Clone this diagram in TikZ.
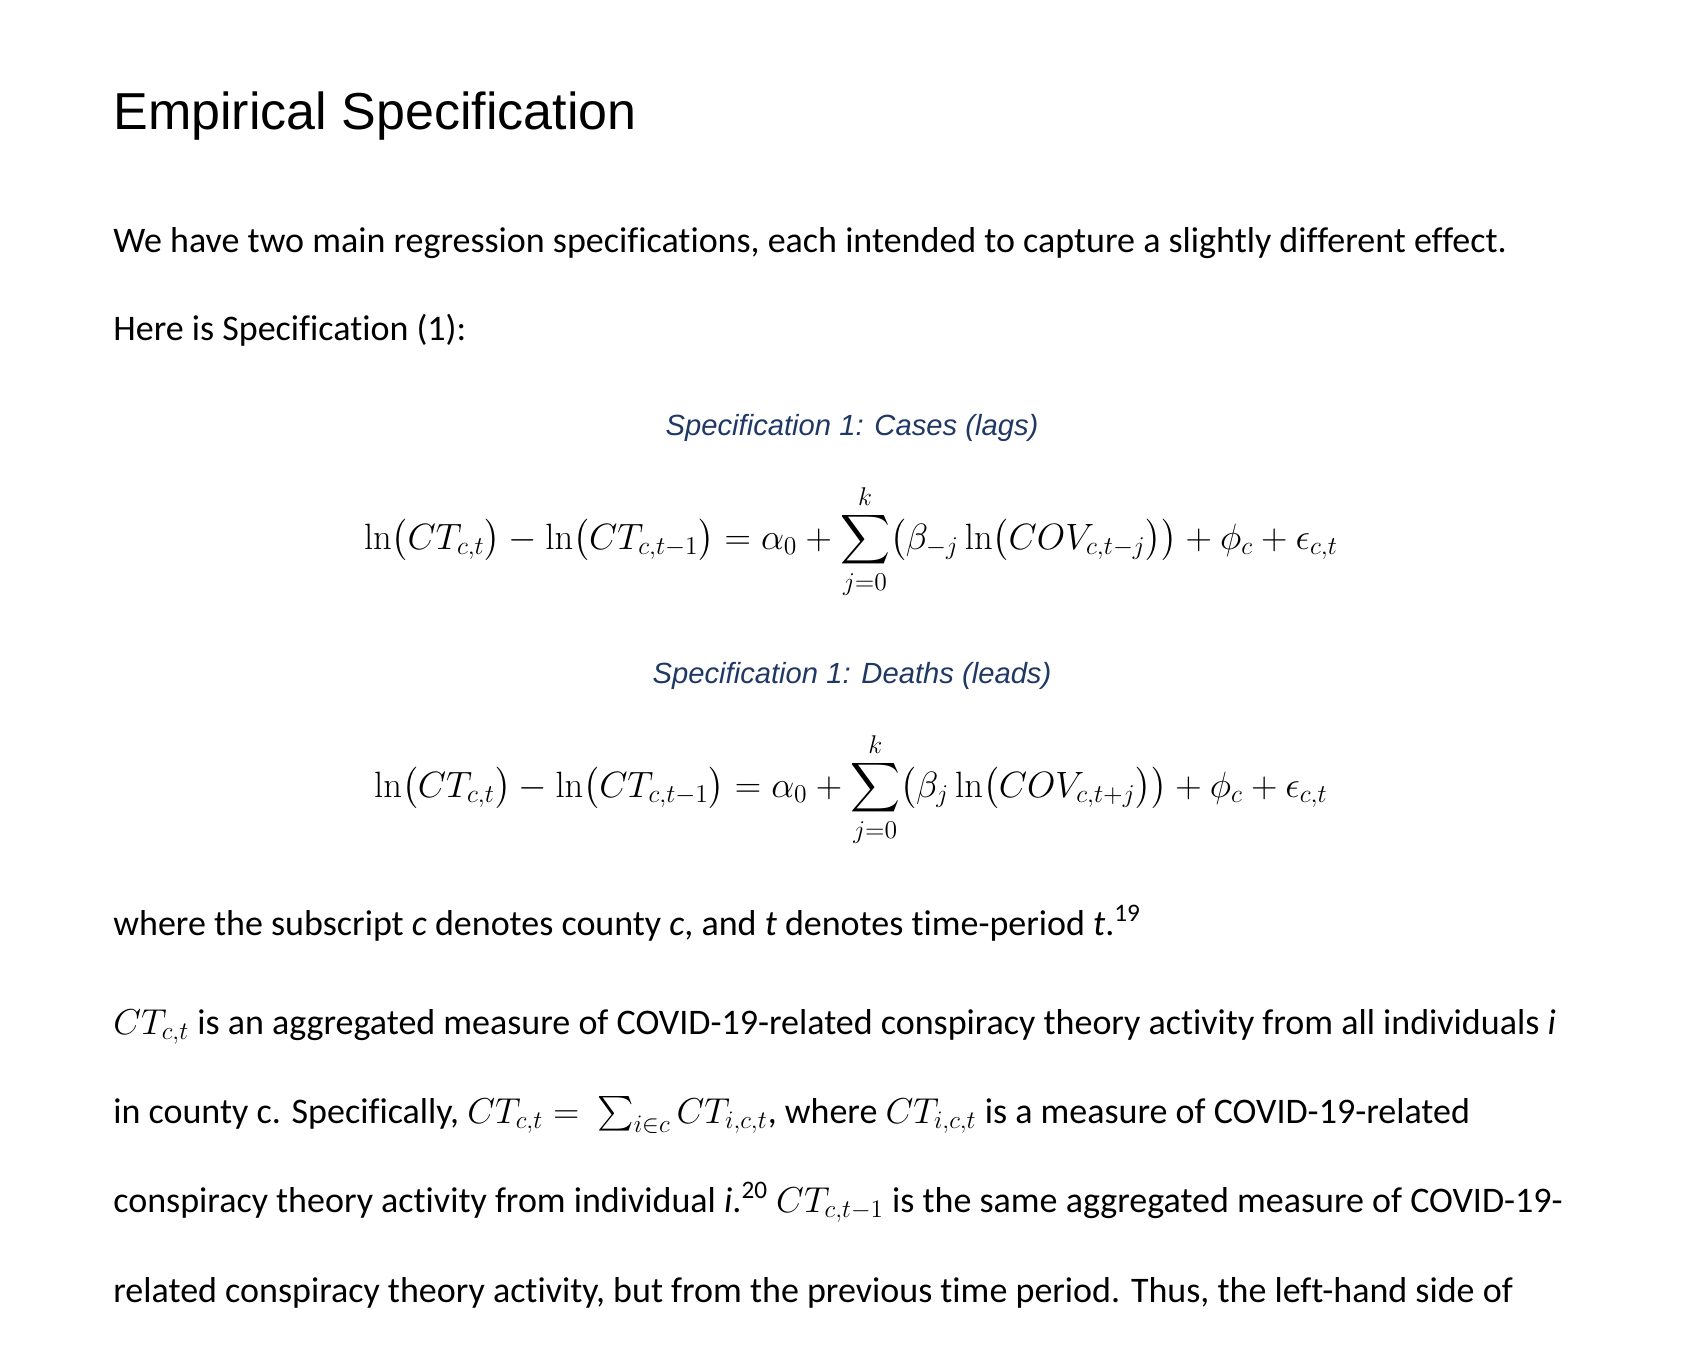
\RequirePackage{fix-cm}
\documentclass[tikz,border=0pt]{standalone}
\usepackage{amsmath}
\usepackage[no-math]{fontspec}
\setmainfont{Carlito}[Ligatures={TeX,NoCommon}]
\newfontfamily\headfont{Liberation Sans}
\usepackage{tikz}
\definecolor{CaptionBlue}{HTML}{1F3864}
\tikzstyle{heading} = [anchor=base west, inner sep=0pt, font=\headfont\fontsize{26pt}{30pt}\selectfont]
\tikzstyle{bodytext} = [anchor=base west, inner sep=0pt, font=\fontsize{18pt}{22pt}\selectfont]
\tikzstyle{caption} = [anchor=base, inner sep=0pt, text=CaptionBlue, font=\headfont\itshape\fontsize{14.6pt}{18pt}\selectfont]
\tikzstyle{eqn} = [anchor=base, inner sep=0pt, font=\fontsize{18.3pt}{22pt}\selectfont]

\begin{document}
\begin{tikzpicture}[x=0.5pt,y=-0.5pt]
  	\useasboundingbox (0,0) rectangle (1700,1344);
  	\node[heading] (title) at (113,129) {Empirical Specification};
  	\node[bodytext] (intro) at (113,252) {We have two main regression specifications, each intended to capture a slightly different effect.};
  	\node[bodytext] (here) at (113,340) {Here is Specification (1):};

  	% the two specifications
  	\node[caption] (caplags) at (852,435) {Specification 1: Cases (lags)};
  	\node[eqn] (eqlags) at (851,549) {$\displaystyle \ln\bigl(CT_{c,t}\bigr) - \ln\bigl(CT_{c,t-1}\bigr) = \alpha_0 + \sum_{j=0}^{k}\bigl(\beta_{-j}\ln\bigl(COV_{c,t-j}\bigr)\bigr) + \phi_c + \epsilon_{c,t}$};
  	\node[caption] (capleads) at (852,683) {Specification 1: Deaths (leads)};
  	\node[eqn] (eqleads) at (851,797) {$\displaystyle \ln\bigl(CT_{c,t}\bigr) - \ln\bigl(CT_{c,t-1}\bigr) = \alpha_0 + \sum_{j=0}^{k}\bigl(\beta_{j}\ln\bigl(COV_{c,t+j}\bigr)\bigr) + \phi_c + \epsilon_{c,t}$};

  	% text after the equations, one node per line
  	\node[bodytext] (where) at (113,935) {where the subscript \textit{c} denotes county \textit{c}, and \textit{t} denotes time-period \textit{t}.\textsuperscript{19}};
  	\node[bodytext] (lineA) at (113,1034) {$CT_{c,t}$ is an aggregated measure of COVID-19-related conspiracy theory activity from all individuals \textit{i}};
  	\node[bodytext] (lineB) at (113,1123) {in county c. Specifically, $CT_{c,t} = \ \sum_{i\in c} CT_{i,c,t}$, where $CT_{i,c,t}$ is a measure of COVID-19-related};
  	\node[bodytext] (lineC) at (113,1212) {conspiracy theory activity from individual \textit{i}.\textsuperscript{20} $CT_{c,t-1}$ is the same aggregated measure of COVID-19-};
  	\node[bodytext] (lineD) at (113,1302) {related conspiracy theory activity, but from the previous time period. Thus, the left-hand side of};
\end{tikzpicture}
\end{document}
